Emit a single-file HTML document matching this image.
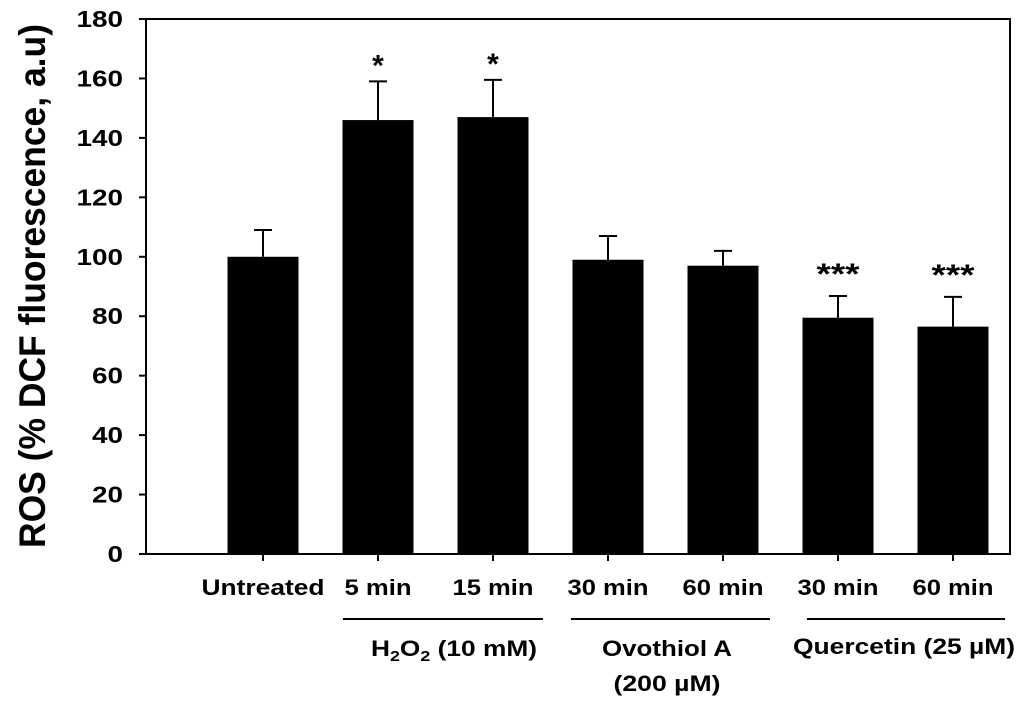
<!DOCTYPE html>
<html><head><meta charset="utf-8"><style>
html,body{margin:0;padding:0;background:#fff;}
svg{display:block;font-family:"Liberation Sans",Arial,sans-serif;font-weight:bold;}
</style></head><body>
<svg id="chart" width="1024" height="704" viewBox="0 0 1024 704">
<rect x="0" y="0" width="1024" height="704" fill="#fff"/>
<g id="plot"></g>
<text transform="translate(45,286) rotate(-90)" text-anchor="middle" font-size="37" textLength="524" lengthAdjust="spacingAndGlyphs">ROS (% DCF fluorescence, a.u)</text>
<g>
<line x1="343" y1="619" x2="543" y2="619" stroke="#000" stroke-width="2"/>
<text x="371" y="656" font-size="22" textLength="166" lengthAdjust="spacingAndGlyphs">H<tspan font-size="15" dy="5">2</tspan><tspan dy="-5">O</tspan><tspan font-size="15" dy="5">2</tspan><tspan dy="-5"> (10 mM)</tspan></text>
</g>
<g>
<line x1="571" y1="619" x2="770" y2="619" stroke="#000" stroke-width="2"/>
<text x="667" y="656" text-anchor="middle" font-size="22" textLength="130" lengthAdjust="spacingAndGlyphs">Ovothiol A</text>
<text x="667" y="691" text-anchor="middle" font-size="22" textLength="107" lengthAdjust="spacingAndGlyphs">(200 µM)</text>
</g>
<g>
<line x1="807" y1="619" x2="1005" y2="619" stroke="#000" stroke-width="2"/>
<text x="904" y="654" text-anchor="middle" font-size="22" textLength="222" lengthAdjust="spacingAndGlyphs">Quercetin (25 µM)</text>
</g>
</svg>
<script>
const categories = ["Untreated","5 min","15 min","30 min","60 min","30 min","60 min"];
const values = [100,146,147,99,97,79.5,76.5];
const errors = [9,13,12.5,8,5,7.3,10];
const stars = ["","*","*","","","***","***"];
const yTicks = [0,20,40,60,80,100,120,140,160,180];

const NS="http://www.w3.org/2000/svg";
const g=document.getElementById('plot');
const x0=146,x1=1010,yTop=19,yBot=554,yMax=180;
const y=v=>yBot-(v/yMax)*(yBot-yTop);
const xc=i=>263+i*115;
const bw=71;
function el(t,a,p){const e=document.createElementNS(NS,t);for(const k in a)e.setAttribute(k,a[k]);(p||g).appendChild(e);return e;}

const frame=el('rect',{x:x0,y:yTop,width:x1-x0,height:yBot-yTop,fill:'none',stroke:'#000','stroke-width':2});



yTicks.forEach(t=>{
  const tk=el('line',{x1:139,y1:y(t),x2:x0,y2:y(t),stroke:'#000','stroke-width':2});
  
  
  const s=String(t);
  const lb=el('text',{x:123,y:y(t)+8,'text-anchor':'end','font-size':23,textLength:s.length*15.5,lengthAdjust:'spacingAndGlyphs'});
  
  
  lb.textContent=s;
});

categories.forEach((c,i)=>{
  const cx=xc(i);
  const b=el('rect',{x:cx-bw/2,y:y(values[i]),width:bw,height:yBot-y(values[i]),fill:'#000'});
  
  
  const top=y(values[i]+errors[i]);
  const eb=el('path',{d:`M${cx},${y(values[i])}V${top}M${cx-9},${top}H${cx+9}`,stroke:'#000','stroke-width':2,fill:'none'});
  
  
  const tk=el('line',{x1:cx,y1:yBot,x2:cx,y2:yBot+7,stroke:'#000','stroke-width':2});
  
  
  const w=c.length>6?123:(c.length>5?81:67);
  const lb=el('text',{x:cx,y:595,'text-anchor':'middle','font-size':22,textLength:w,lengthAdjust:'spacingAndGlyphs'});
  
  
  lb.textContent=c;
  if(stars[i]){
    const multi=stars[i].length>1;
    const s=el('text',{x:cx,y:top-(multi?12:6),'text-anchor':'middle','font-size':30});
    if(multi){s.setAttribute('textLength',43);s.setAttribute('lengthAdjust','spacingAndGlyphs');}
    
    
    s.textContent=stars[i];
  }
});
</script>
</body></html>
